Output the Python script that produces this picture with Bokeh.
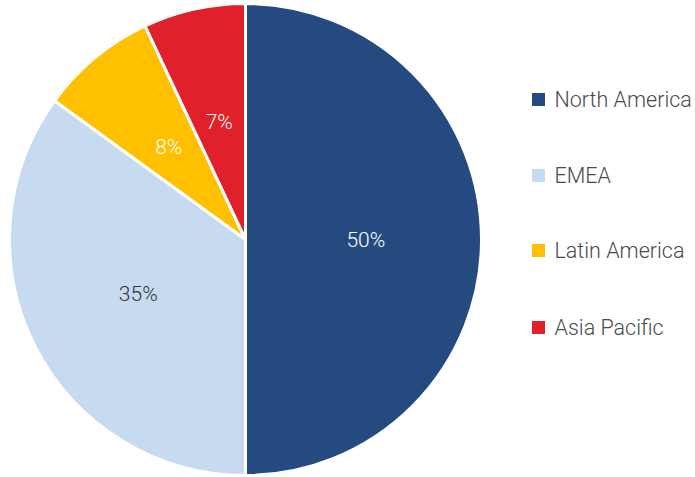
import math
from bokeh.plotting import figure
from bokeh.models import ColumnDataSource
from bokeh.core.properties import value
from bokeh.embed import file_html
from bokeh.resources import INLINE

# ---- data ----
regions = ["North America", "EMEA", "Latin America", "Asia Pacific"]
shares = [50, 35, 8, 7]
colors = ["#254A80", "#C6DBF0", "#FFC000", "#E0202A"]
label_colors = ["#FFFFFF", "#333333", "#FFFFFF", "#FFFFFF"]

W, H = 695, 477
FONT = "Roboto Light, Roboto, Helvetica, Arial, sans-serif"

p = figure(width=W, height=H, x_range=(0, W), y_range=(0, H),
           output_backend="svg", toolbar_location=None,
           min_border=0, outline_line_color=None)
p.axis.visible = False
p.grid.visible = False
p.background_fill_color = "white"
p.border_fill_color = "white"

cx, cy, r = 245, 238, 236
total = float(sum(shares))
starts, ends, lx, ly = [], [], [], []
cum = 0.0
for s in shares:
    a0 = math.pi / 2 - 2 * math.pi * cum / total
    cum += s
    a1 = math.pi / 2 - 2 * math.pi * cum / total
    starts.append(a0)
    ends.append(a1)
    mid = (a0 + a1) / 2
    lx.append(cx + 0.51 * r * math.cos(mid))
    ly.append(cy + 0.51 * r * math.sin(mid))

src = ColumnDataSource(dict(region=regions, share=shares, color=colors,
                            start=starts, end=ends, lx=lx, ly=ly,
                            lab=[f"{s}%" for s in shares], lc=label_colors))

p.wedge(x=cx, y=cy, radius=r, radius_units="screen", start_angle="start", end_angle="end",
        direction="clock", fill_color="color", line_color="white", line_width=3, source=src)

p.text(x="lx", y="ly", text="lab", text_color="lc", text_font=value(FONT),
       text_font_size="21px", text_align="center", text_baseline="middle", source=src)

# legend (manual)
leg_y = [477 - Y for Y in (99, 175, 250, 327)]
lsrc = ColumnDataSource(dict(x=[538] * 4, y=leg_y, tx=[554] * 4, region=regions, color=colors))
p.scatter(x="x", y="y", marker="square", size=13, fill_color="color", line_color=None, source=lsrc)
p.text(x="tx", y="y", text="region", text_color="#4A4A4A", text_font=value(FONT),
       text_font_size="21.5px", text_align="left", text_baseline="middle", source=lsrc)

open("out.html", "w").write(file_html(p, INLINE))
